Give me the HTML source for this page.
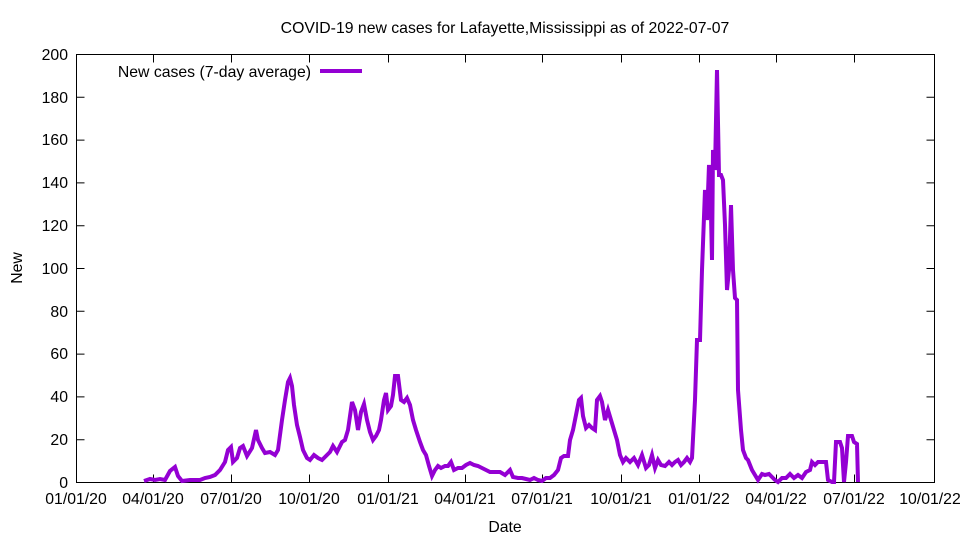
<!DOCTYPE html>
<html><head><meta charset="utf-8"><style>body{margin:0;background:#fff}svg{display:block}text{font-family:"Liberation Sans",sans-serif;font-size:15.8px;fill:#000}</style></head>
<body><svg width="960" height="540" xmlns="http://www.w3.org/2000/svg">
<text x="505" y="33" text-anchor="middle">COVID-19 new cases for Lafayette,Mississippi as of 2022-07-07</text>
<g stroke="#000" stroke-width="1" fill="none">
<rect x="76.5" y="54.5" width="858" height="428"/>
<path d="M76.5 439.7h8M934.5 439.7h-8M76.5 396.9h8M934.5 396.9h-8M76.5 354.1h8M934.5 354.1h-8M76.5 311.3h8M934.5 311.3h-8M76.5 268.5h8M934.5 268.5h-8M76.5 225.7h8M934.5 225.7h-8M76.5 182.9h8M934.5 182.9h-8M76.5 140.1h8M934.5 140.1h-8M76.5 97.3h8M934.5 97.3h-8"/>
<path d="M153.5 482.5v-8M153.5 54.5v8M231.5 482.5v-8M231.5 54.5v8M309.5 482.5v-8M309.5 54.5v8M388.5 482.5v-8M388.5 54.5v8M465.5 482.5v-8M465.5 54.5v8M542.5 482.5v-8M542.5 54.5v8M621.5 482.5v-8M621.5 54.5v8M699.5 482.5v-8M699.5 54.5v8M776.5 482.5v-8M776.5 54.5v8M854.5 482.5v-8M854.5 54.5v8"/>
</g>
<g text-anchor="end">
<text x="68" y="488">0</text><text x="68" y="445">20</text><text x="68" y="402">40</text><text x="68" y="359">60</text><text x="68" y="317">80</text><text x="68" y="274">100</text><text x="68" y="231">120</text><text x="68" y="188">140</text><text x="68" y="145">160</text><text x="68" y="103">180</text><text x="68" y="60">200</text>
</g>
<g text-anchor="middle">
<text x="76" y="504">01/01/20</text><text x="153" y="504">04/01/20</text><text x="231" y="504">07/01/20</text><text x="309" y="504">10/01/20</text><text x="388" y="504">01/01/21</text><text x="465" y="504">04/01/21</text><text x="542" y="504">07/01/21</text><text x="621" y="504">10/01/21</text><text x="699" y="504">01/01/22</text><text x="776" y="504">04/01/22</text><text x="854" y="504">07/01/22</text><text x="930" y="504">10/01/22</text>
<text x="505" y="532">Date</text>
<text x="0" y="0" transform="translate(22 268) rotate(-90)">New</text>
</g>
<text x="311" y="77" text-anchor="end">New cases (7-day average)</text>
<path d="M320 71h42" stroke="#9400D3" stroke-width="4"/>
<polyline fill="none" stroke="#9400D3" stroke-width="4" stroke-linejoin="miter" points="144,481 150,479 155,480 160,479 165,480 170,471 175,467 178,476 182,481 190,480 200,480 205,478 210,477 215,475 220,470 225,462 228,450 231,447 233,462 237,458 240,448 243,446 247,456 252,448 256,430 258,440 262,448 265,453 270,452 275,455 278,450 282,420 285,400 288,382 290,378 292,386 294,405 297,425 300,437 303,450 307,458 310,460 314,455 318,458 322,460 326,456 330,452 333,446 337,452 342,442 345,440 348,430 352,402 355,410 358,430 361,412 364,404 367,420 370,432 373,440 376,436 379,430 381,420 384,400 386,393 388,410 391,406 393,395 395,376 398,376 401,400 404,402 407,398 410,405 413,420 416,430 420,442 423,450 426,455 429,466 432,476 435,470 438,466 441,468 445,466 448,466 451,462 454,470 458,468 462,468 466,465 470,463 474,465 478,466 482,468 486,470 490,472 495,472 500,472 505,475 510,470 513,477 518,478 522,478 526,479 530,480 534,478 538,480 542,481 546,478 550,478 554,475 558,470 561,458 564,456 568,456 570,440 573,430 576,415 579,400 581,398 583,416 586,428 589,425 592,428 595,430 597,400 600,396 602,402 605,420 608,410 611,420 614,430 617,440 620,455 623,462 626,458 630,462 634,458 638,465 642,455 646,468 649,465 652,455 655,468 658,460 661,465 665,466 669,462 672,465 675,462 678,460 681,465 684,462 687,458 690,462 692,458 695,400 697,340 700,340 702,270 705,190 707,220 709,165 711,215 712,260 713,150 715,170 717,70 719,175 721,175 723,180 725,225 727,290 729,270 731,205 733,270 735,298 737,300 738,390 741,430 743,450 746,458 748,460 752,470 755,475 758,480 762,474 765,475 769,474 772,477 775,480 778,482 782,478 786,478 790,474 794,478 798,475 802,478 806,472 810,470 812,462 815,465 818,462 822,462 826,462 828,480 832,482 834,482 836,442 840,442 842,448 844,482 846,462 848,436 852,436 854,442 857,444 858,482"/>
</svg></body></html>
